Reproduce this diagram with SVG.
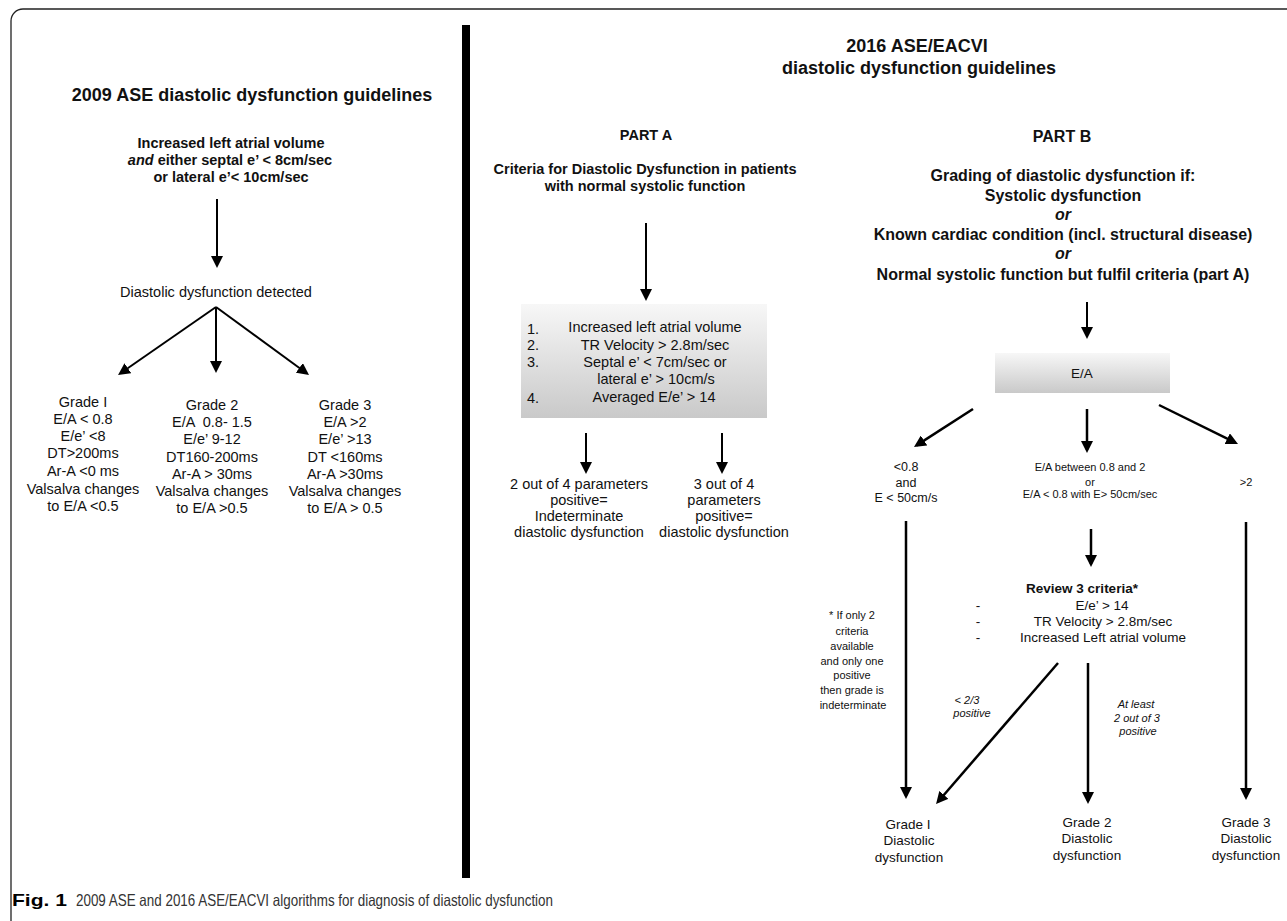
<svg xmlns="http://www.w3.org/2000/svg" width="1287" height="921" viewBox="0 0 1287 921">
<defs>
<marker id="ah" viewBox="0 0 12 12" refX="9" refY="6" markerWidth="12" markerHeight="12" markerUnits="userSpaceOnUse" orient="auto">
<path d="M0,0 L12,6 L0,12 Z" fill="#000"/>
</marker>
<linearGradient id="gbox" x1="0" y1="0" x2="0" y2="1">
<stop offset="0" stop-color="#f7f7f7"/>
<stop offset="1" stop-color="#c9c9c9"/>
</linearGradient>
<style>
text{font-family:"Liberation Sans",Arial,sans-serif;fill:#111;text-anchor:middle}
.b{font-weight:bold}
.i{font-style:italic}
.t18{font-size:18px}
.t16{font-size:16px}
.t145{font-size:14.5px}
.t135{font-size:13.5px}
.t125{font-size:12.5px}
.t11{font-size:11px}
.st{text-anchor:start}
.c line{stroke:#000;stroke-width:2;marker-end:url(#ah)}
.c .w{stroke-width:2.5}
</style>
</defs>
<rect width="1287" height="921" fill="#fff"/>
<path d="M11,921 V21 A12,12 0 0 1 23,9 H1287" fill="none" stroke="#222" stroke-width="1.3"/>
<rect x="462" y="25" width="8" height="853" fill="#000"/>

<g id="left-title"><text class="b t18" x="252" y="101">2009 ASE diastolic dysfunction guidelines</text></g>
<g id="left-criteria" class="b t145">
<text class="b t145" x="231" y="148">Increased left atrial volume</text>
<text class="b t145" x="230" y="165"><tspan class="i">and</tspan> either septal e’ &lt; 8cm/sec</text>
<text class="b t145" x="231" y="182">or lateral e’&lt; 10cm/sec</text>
</g>
<g id="left-detected"><text class="t145" x="216" y="297">Diastolic dysfunction detected</text></g>
<g id="left-grade1" class="t145">
<text x="83" y="407">Grade I</text>
<text x="83" y="424">E/A &lt; 0.8</text>
<text x="83" y="441">E/e’ &lt;8</text>
<text x="83" y="458">DT&gt;200ms</text>
<text x="83" y="476">Ar-A &lt;0 ms</text>
<text x="83" y="494">Valsalva changes</text>
<text x="83" y="511">to E/A &lt;0.5</text>
</g>
<g id="left-grade2" class="t145">
<text x="212" y="410">Grade 2</text>
<text x="212" y="427" xml:space="preserve">E/A  0.8- 1.5</text>
<text x="212" y="444">E/e’ 9-12</text>
<text x="212" y="462">DT160-200ms</text>
<text x="212" y="479">Ar-A &gt; 30ms</text>
<text x="212" y="496">Valsalva changes</text>
<text x="212" y="513">to E/A &gt;0.5</text>
</g>
<g id="left-grade3" class="t145">
<text x="345" y="410">Grade 3</text>
<text x="345" y="427">E/A &gt;2</text>
<text x="345" y="444">E/e’ &gt;13</text>
<text x="345" y="462">DT &lt;160ms</text>
<text x="345" y="479">Ar-A &gt;30ms</text>
<text x="345" y="496">Valsalva changes</text>
<text x="345" y="513">to E/A &gt; 0.5</text>
</g>

<g id="right-title">
<text class="b t18" x="917" y="52">2016 ASE/EACVI</text>
<text class="b t18" x="919" y="74">diastolic dysfunction guidelines</text>
</g>
<g id="partA-title">
<text class="b t145" x="646" y="140">PART A</text>
<text class="b t145" x="645" y="174">Criteria for Diastolic Dysfunction in patients</text>
<text class="b t145" x="645" y="191">with normal systolic function</text>
</g>
<g id="partA-box">
<rect x="521" y="304" width="246" height="114" fill="url(#gbox)"/>
<text class="t145 st" x="527" y="334">1.</text>
<text class="t145 st" x="527" y="350">2.</text>
<text class="t145 st" x="527" y="367">3.</text>
<text class="t145 st" x="527" y="403">4.</text>
<text class="t145" x="655" y="332">Increased left atrial volume</text>
<text class="t145" x="655" y="350">TR Velocity &gt; 2.8m/sec</text>
<text class="t145" x="655" y="367">Septal e’ &lt; 7cm/sec or</text>
<text class="t145" x="656" y="384">lateral e’ &gt; 10cm/s</text>
<text class="t145" x="654" y="402">Averaged E/e’ &gt; 14</text>
</g>
<g id="partA-out1" class="t145">
<text x="579" y="489">2 out of 4 parameters</text>
<text x="579" y="505">positive=</text>
<text x="579" y="521">Indeterminate</text>
<text x="579" y="537">diastolic dysfunction</text>
</g>
<g id="partA-out2" class="t145">
<text x="724" y="489">3 out of 4</text>
<text x="724" y="505">parameters</text>
<text x="724" y="521">positive=</text>
<text x="724" y="537">diastolic dysfunction</text>
</g>

<g id="partB-title" class="b t16">
<text class="b t16" x="1062" y="142">PART B</text>
<text class="b t16" x="1063" y="181">Grading of diastolic dysfunction if:</text>
<text class="b t16" x="1063" y="201">Systolic dysfunction</text>
<text class="b i t16" x="1063" y="220">or</text>
<text class="b t16" x="1063" y="240">Known cardiac condition (incl. structural disease)</text>
<text class="b i t16" x="1063" y="259">or</text>
<text class="b t16" x="1063" y="280">Normal systolic function but fulfil criteria (part A)</text>
</g>
<g id="partB-EA">
<rect x="995" y="353" width="175" height="40" fill="url(#gbox)"/>
<text class="t135" x="1082" y="378">E/A</text>
</g>
<g id="partB-low" class="t125">
<text x="906" y="471">&lt;0.8</text>
<text x="906" y="487">and</text>
<text x="906" y="502">E &lt; 50cm/s</text>
</g>
<g id="partB-mid" class="t11">
<text x="1090" y="471">E/A between 0.8 and 2</text>
<text x="1090" y="486">or</text>
<text x="1090" y="498">E/A &lt; 0.8 with E&gt; 50cm/sec</text>
</g>
<g id="partB-high"><text class="t11" x="1246" y="486">&gt;2</text></g>
<g id="partB-review" class="t135">
<text class="b t135" x="1082" y="593">Review 3 criteria*</text>
<text x="978" y="610">-</text>
<text x="978" y="626">-</text>
<text x="978" y="642">-</text>
<text x="1102" y="610">E/e’ &gt; 14</text>
<text x="1103" y="626">TR Velocity &gt; 2.8m/sec</text>
<text x="1103" y="642">Increased Left atrial volume</text>
</g>
<g id="partB-footnote" class="t11">
<text x="852" y="619">* If only 2</text>
<text x="852" y="635">criteria</text>
<text x="852" y="650">available</text>
<text x="852" y="665">and only one</text>
<text x="852" y="679">positive</text>
<text x="852" y="694">then grade is</text>
<text x="853" y="709">indeterminate</text>
</g>
<g id="label-lt23" class="t11 i">
<text class="i t11" x="967" y="704">&lt; 2/3</text>
<text class="i t11" x="972" y="717">positive</text>
</g>
<g id="label-atleast" class="t11 i">
<text class="i t11" x="1136" y="708">At least</text>
<text class="i t11" x="1137" y="722">2 out of 3</text>
<text class="i t11" x="1138" y="735">positive</text>
</g>
<g id="partB-grade1" class="t135">
<text x="908" y="829">Grade I</text>
<text x="909" y="845">Diastolic</text>
<text x="909" y="862">dysfunction</text>
</g>
<g id="partB-grade2" class="t135">
<text x="1087" y="827">Grade 2</text>
<text x="1087" y="843">Diastolic</text>
<text x="1087" y="860">dysfunction</text>
</g>
<g id="partB-grade3" class="t135">
<text x="1246" y="827">Grade 3</text>
<text x="1246" y="843">Diastolic</text>
<text x="1246" y="860">dysfunction</text>
</g>

<g id="connectors" class="c">
<line x1="217" y1="199" x2="217" y2="265"/>
<line x1="216" y1="307" x2="120.5" y2="373.3"/>
<line x1="216" y1="307" x2="216" y2="370"/>
<line x1="216" y1="307" x2="306.6" y2="373.2"/>
<line x1="646" y1="223" x2="646" y2="298"/>
<line x1="586" y1="433" x2="586" y2="471"/>
<line x1="722" y1="433" x2="722" y2="471"/>
<line x1="1087" y1="302" x2="1087" y2="336"/>
<line class="w" x1="973" y1="409" x2="916.5" y2="445.4"/>
<line class="w" x1="1087" y1="409" x2="1087" y2="450"/>
<line class="w" x1="1159" y1="405" x2="1235.3" y2="442.7"/>
<line class="w" x1="906" y1="521" x2="906" y2="796"/>
<line class="w" x1="1246" y1="522" x2="1246" y2="797"/>
<line class="w" x1="1091" y1="529" x2="1091" y2="564"/>
<line class="w" x1="1058" y1="663" x2="938" y2="801.7"/>
<line class="w" x1="1088" y1="663" x2="1088" y2="801"/>
</g>

<g id="caption">
<text class="b st" x="12" y="906" style="font-size:17px;fill:#000" textLength="55" lengthAdjust="spacingAndGlyphs">Fig. 1</text>
<text class="st" x="76" y="906" style="font-size:16.5px;fill:#333" textLength="477" lengthAdjust="spacingAndGlyphs">2009 ASE and 2016 ASE/EACVI algorithms for diagnosis of diastolic dysfunction</text>
</g>
</svg>
